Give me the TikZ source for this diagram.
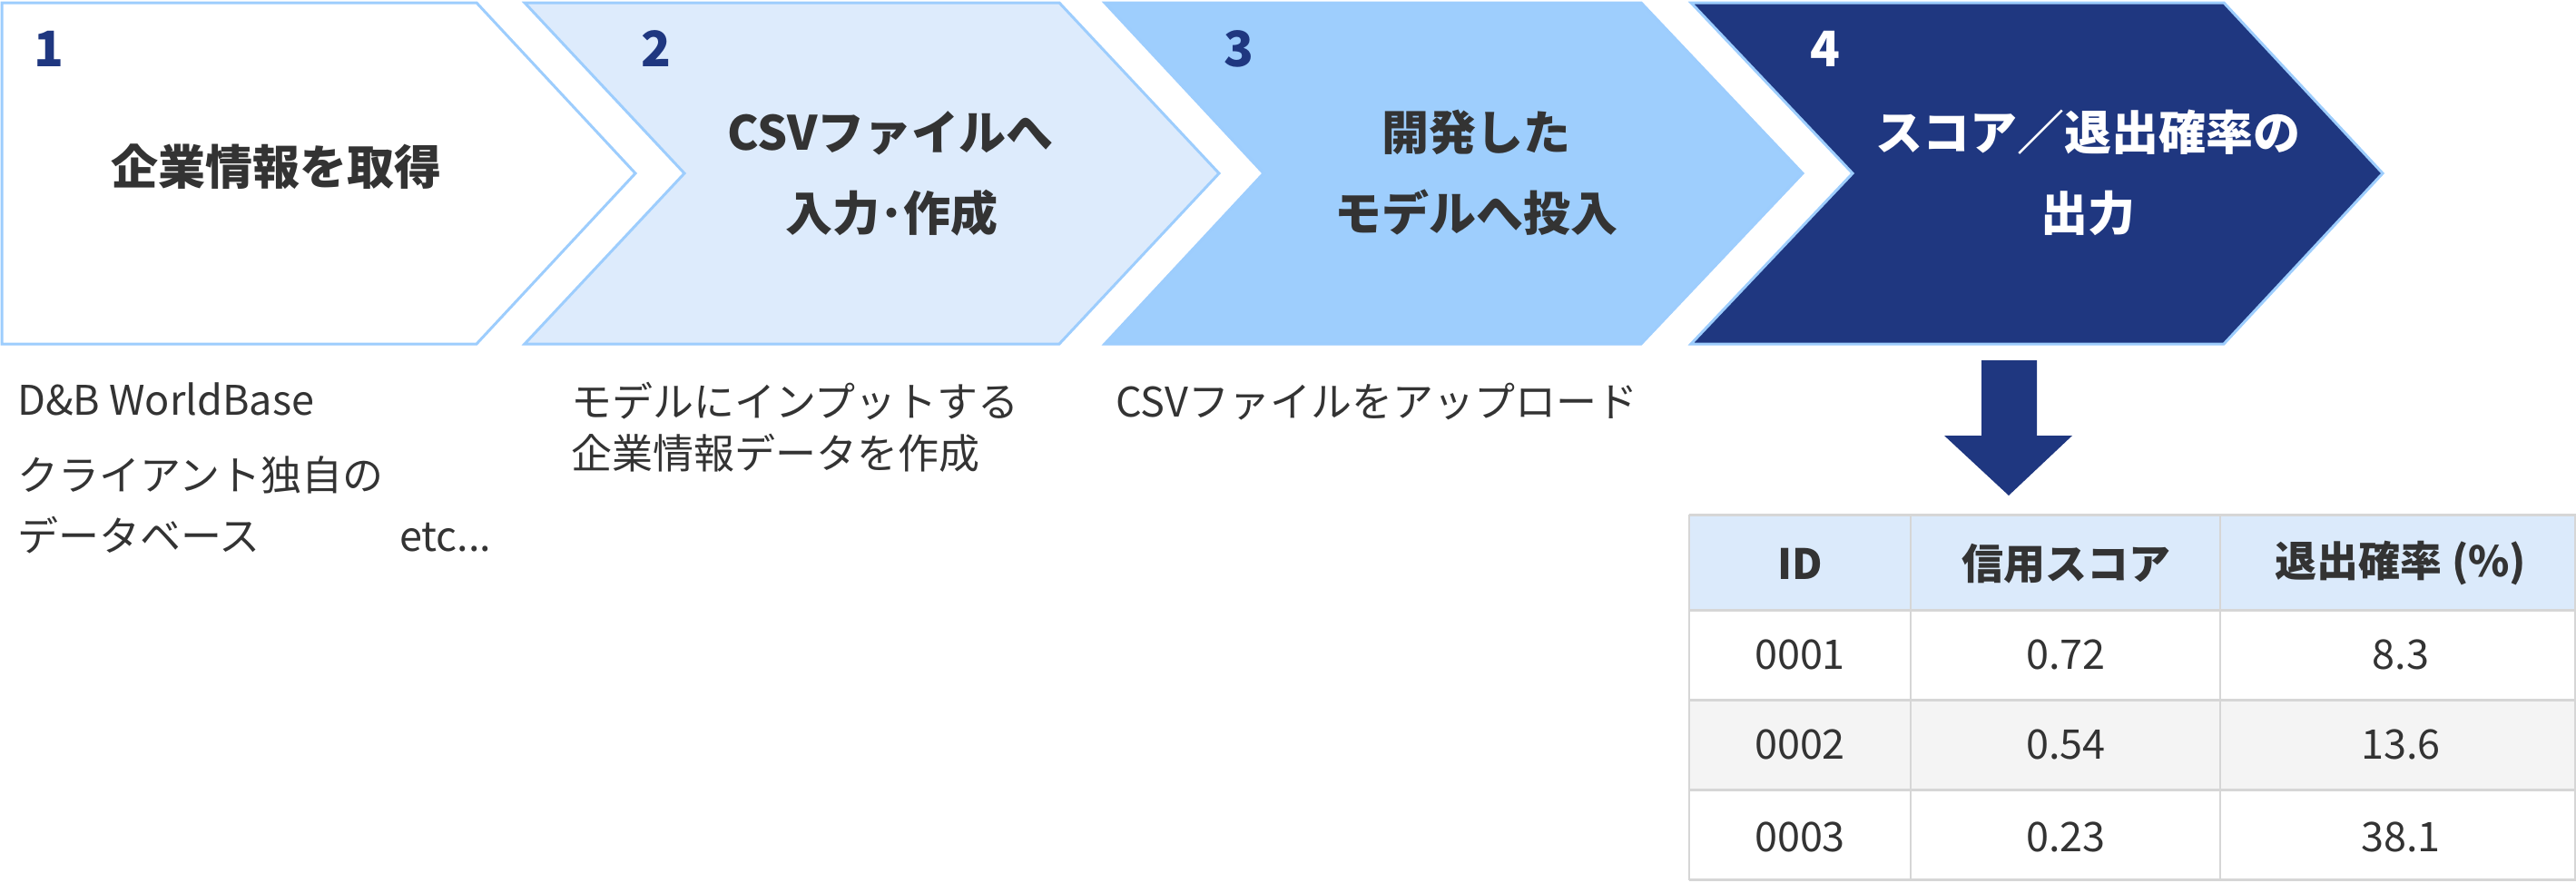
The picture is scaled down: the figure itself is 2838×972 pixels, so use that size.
\documentclass[tikz,border=0pt]{standalone}
\usepackage{fontspec}
\setmainfont{Noto Sans CJK JP}
\definecolor{edge}{HTML}{9DCDFD}
\definecolor{pale}{HTML}{DDEBFC}
\definecolor{sky}{HTML}{9ECEFD}
\definecolor{navy}{HTML}{1F3780}
\definecolor{ink}{HTML}{333333}
\definecolor{grid}{HTML}{D6D6D6}
\definecolor{headfill}{HTML}{DBEAFB}
\definecolor{rowfill}{HTML}{F4F4F4}
\tikzset{
  chev/.style={draw=edge, line width=3pt, line join=miter},
  num/.style={font=\fontsize{54}{54}\selectfont\bfseries, text=navy, inner sep=0pt, anchor=base},
  ttl/.style={font=\fontsize{52}{52}\selectfont\bfseries, text=ink, inner sep=0pt, anchor=base},
  desc/.style={font=\fontsize{45}{45}\selectfont, text=ink, inner sep=0pt, anchor=base west},
  cell/.style={font=\fontsize{45}{45}\selectfont, text=ink, inner sep=0pt},
  headcell/.style={font=\fontsize{46}{46}\selectfont\bfseries, text=ink, inner sep=0pt},
  hline/.style={draw=grid, line width=3pt},
  vline/.style={draw=grid, line width=2pt},
}
\begin{document}
\begin{tikzpicture}[x=1pt,y=-1pt]
\useasboundingbox (0,0) rectangle (2838,972);
% chevrons
\path[chev, fill=white] (2,3) -- (525,3) -- (700,191) -- (525,379) -- (2,379) -- cycle;
\path[chev, fill=pale] (578,3) -- (1167,3) -- (1343,191) -- (1167,379) -- (578,379) -- (754,191) -- cycle;
\path[chev, fill=sky] (1217,3) -- (1808,3) -- (1986,191) -- (1808,379) -- (1217,379) -- (1392,191) -- cycle;
\path[chev, fill=navy] (1863,3) -- (2450,3) -- (2625,191) -- (2450,379) -- (1863,379) -- (2041,191) -- cycle;
% step numbers
\node[num] (n1) at (54,73) {1};
\node[num] (n2) at (723,73) {2};
\node[num] (n3) at (1365,73) {3};
\node[num, text=white] (n4) at (2011,73) {4};
% titles
\node[ttl] (t1) at (304,203) {企業情報を取得};
\node[ttl] (t2a) at (981,165) {CSVファイルへ};
\node[ttl] (t2b) at (982,254) {入力･作成};
\node[ttl] (t3a) at (1626,165) {開発した};
\node[ttl] (t3b) at (1626,254) {モデルへ投入};
\node[ttl, text=white] (t4a) at (2300,165) {スコア／退出確率の};
\node[ttl, text=white] (t4b) at (2300,254) {出力};
% descriptions
\node[desc] (d1a) at (19,457) {D\&B WorldBase};
\node[desc] (d1b) at (19,540) {クライアント独自の};
\node[desc] (d1c) at (19,607) {データベース};
\node[desc] (d1d) at (440,607) {etc...};
\node[desc] (d2a) at (629,459) {モデルにインプットする};
\node[desc] (d2b) at (629,516) {企業情報データを作成};
\node[desc] (d3a) at (1229,459) {CSVファイルをアップロード};
% down arrow
\fill[navy] (2183,397) -- (2244,397) -- (2244,480) -- (2283,480) -- (2213,546) -- (2142,480) -- (2183,480) -- cycle;
% table
\fill[headfill] (1861,567) rectangle (2837,672);
\fill[white] (1861,672) rectangle (2837,771);
\fill[rowfill] (1861,771) rectangle (2837,870);
\fill[white] (1861,870) rectangle (2837,970);
\foreach \xx in {2105,2446} \draw[vline] (\xx,567) -- (\xx,970);
\draw[vline] (1861,567) -- (1861,970);
\draw[vline] (2837,567) -- (2837,970);
\foreach \yy in {567,672,771,870,969.5} \draw[hline] (1861,\yy) -- (2838,\yy);
\node[headcell] (h1) at (1983,621) {ID};
\node[headcell] (h2) at (2276,621) {信用スコア};
\node[headcell] (h3) at (2645,621) {退出確率 (\%)};
\node[cell] (r1a) at (1983,721) {0001};
\node[cell] (r1b) at (2276,721) {0.72};
\node[cell] (r1c) at (2645,721) {8.3};
\node[cell] (r2a) at (1983,820) {0002};
\node[cell] (r2b) at (2276,820) {0.54};
\node[cell] (r2c) at (2645,820) {13.6};
\node[cell] (r3a) at (1983,922) {0003};
\node[cell] (r3b) at (2276,922) {0.23};
\node[cell] (r3c) at (2645,922) {38.1};
\end{tikzpicture}
\end{document}
